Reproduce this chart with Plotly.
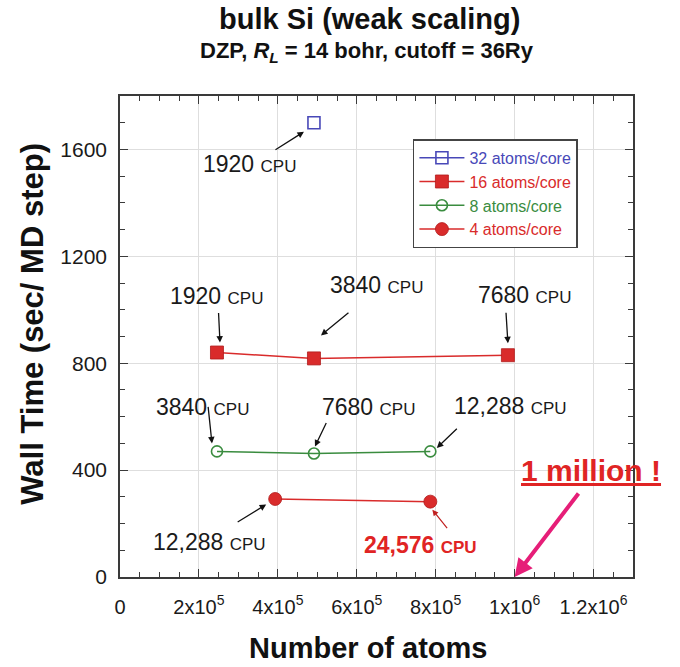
import plotly.graph_objects as go

# Weak-scaling runs of bulk Si: system size (atoms) vs wall time per MD step
atoms_32 = [491520]
time_32 = [1700]
cpu_32 = ["1920"]

atoms_16 = [245760, 491520, 983040]
time_16 = [840, 818, 830]
cpu_16 = ["1920", "3840", "7680"]

atoms_8 = [245760, 491520, 786432]
time_8 = [470, 462, 470]
cpu_8 = ["3840", "7680", "12,288"]

atoms_4 = [393216, 786432]
time_4 = [292, 282]
cpu_4 = ["12,288", "24,576"]

x_tickvals = [0, 200000, 400000, 600000, 800000, 1000000, 1200000]
x_ticktext = ["0", "2x10<sup>5</sup>", "4x10<sup>5</sup>", "6x10<sup>5</sup>",
              "8x10<sup>5</sup>", "1x10<sup>6</sup>", "1.2x10<sup>6</sup>"]
y_tickvals = [0, 400, 800, 1200, 1600]

MILLION = 1000000

FONT = "Liberation Sans, Arial, Helvetica, sans-serif"
RED = "#d92b2b"
GREEN = "#3a8c3f"
BLUE = "#4848b8"
AXIS = "#3a3a3a"

fig = go.Figure()


def legend_name(label, color):
    return f"<span style='color:{color}'>{label}</span>"


fig.add_trace(go.Scatter(
    x=atoms_32, y=time_32, mode="lines+markers",
    name=legend_name("32 atoms/core", BLUE),
    line=dict(color=BLUE, width=1.5),
    marker=dict(symbol="square-open", size=12, color=BLUE, line=dict(width=1.6)),
))
fig.add_trace(go.Scatter(
    x=atoms_16, y=time_16, mode="lines+markers",
    name=legend_name("16 atoms/core", RED),
    line=dict(color=RED, width=1.5),
    marker=dict(symbol="square", size=13, color=RED, line=dict(width=0.8, color="#b01c1c")),
))
fig.add_trace(go.Scatter(
    x=atoms_8, y=time_8, mode="lines+markers",
    name=legend_name("8 atoms/core", GREEN),
    line=dict(color=GREEN, width=1.5),
    marker=dict(symbol="circle-open", size=11, color=GREEN, line=dict(width=1.6)),
))
fig.add_trace(go.Scatter(
    x=atoms_4, y=time_4, mode="lines+markers",
    name=legend_name("4 atoms/core", RED),
    line=dict(color=RED, width=1.5),
    marker=dict(symbol="circle", size=13, color=RED, line=dict(width=0.8, color="#b01c1c")),
))


def cpu_label(x, y, cpu, dx, dy, color="#1a1a1a", bold=False):
    txt = f"{cpu} <span style='font-size:17px'>CPU</span>"
    if bold:
        txt = f"<b>{txt}</b>"
    fig.add_annotation(x=x, y=y, xref="x", yref="y", text=txt, showarrow=False,
                       xanchor="center", yanchor="middle",
                       xshift=dx, yshift=-dy,
                       font=dict(size=23, color=color, family=FONT))


def pointer(x, y, head, tail, color="#111111", width=1.3, style=2, size=1.0):
    hx, hy = head
    tx, ty = tail
    fig.add_annotation(x=x, y=y, xref="x", yref="y", text="", showarrow=True,
                       axref="pixel", ayref="pixel", ax=tx - hx, ay=ty - hy,
                       xshift=hx, yshift=-hy, standoff=0, startstandoff=0,
                       arrowhead=style, arrowsize=size, arrowwidth=width,
                       arrowcolor=color)


# 32 atoms/core
cpu_label(atoms_32[0], time_32[0], cpu_32[0], -64, 41)
pointer(atoms_32[0], time_32[0], (-10, 9), (-40, 28))

# 16 atoms/core
cpu_label(atoms_16[0], time_16[0], cpu_16[0], 0, -57)
pointer(atoms_16[0], time_16[0], (3, -10), (1.5, -41))
cpu_label(atoms_16[1], time_16[1], cpu_16[1], 63, -73)
pointer(atoms_16[1], time_16[1], (7, -23), (36, -47))
cpu_label(atoms_16[2], time_16[2], cpu_16[2], 17, -60)
pointer(atoms_16[2], time_16[2], (0, -12), (-2, -44))

# 8 atoms/core
cpu_label(atoms_8[0], time_8[0], cpu_8[0], -14, -44)
pointer(atoms_8[0], time_8[0], (-5, -8), (-9, -46))
cpu_label(atoms_8[1], time_8[1], cpu_8[1], 55, -47)
pointer(atoms_8[1], time_8[1], (1, -7), (13, -32))
cpu_label(atoms_8[2], time_8[2], cpu_8[2], 80, -45)
pointer(atoms_8[2], time_8[2], (6.5, -3.5), (28, -24))

# 4 atoms/core
cpu_label(atoms_4[0], time_4[0], cpu_4[0], -66, 43)
pointer(atoms_4[0], time_4[0], (-9, 5.5), (-39, 24))
cpu_label(atoms_4[1], time_4[1], cpu_4[1], -10, 43, color="#e02424", bold=True)
pointer(atoms_4[1], time_4[1], (2, 8), (18, 28), color="#c02020", width=1.2)

# One-million-atom target
fig.add_annotation(x=MILLION, y=0, xref="x", yref="y", text="", showarrow=True,
                   axref="pixel", ayref="pixel", ax=65, ay=-85, standoff=0,
                   arrowhead=2, arrowsize=0.9, arrowwidth=4, arrowcolor="#e61e78")
fig.add_annotation(x=MILLION, y=0, xref="x", yref="y",
                   text="<b><u>1 million !</u></b>", showarrow=False,
                   xanchor="center", yanchor="middle",
                   xshift=76, yshift=107,
                   font=dict(size=30, color="#e02424", family=FONT))

# Titles
fig.add_annotation(x=0.487, y=1.161, xref="paper", yref="paper",
                   xanchor="center", yanchor="middle",
                   text="<b>bulk Si (weak scaling)</b>", showarrow=False,
                   font=dict(size=29, color="#111111", family=FONT))
fig.add_annotation(x=0.482, y=1.092, xref="paper", yref="paper",
                   xanchor="center", yanchor="middle",
                   text="<b>DZP, <i>R</i><sub><i>L</i></sub> = 14 bohr, cutoff = 36Ry</b>",
                   showarrow=False,
                   font=dict(size=22, color="#111111", family=FONT))
fig.add_annotation(x=-0.17, y=0.526, xref="paper", yref="paper",
                   xanchor="center", yanchor="middle",
                   text="<b>Wall Time (sec/ MD step)</b>", textangle=-90,
                   showarrow=False,
                   font=dict(size=31, color="#111111", family=FONT))
fig.add_annotation(x=0.483, y=-0.148, xref="paper", yref="paper",
                   xanchor="center", yanchor="middle",
                   text="<b>Number of atoms</b>", showarrow=False,
                   font=dict(size=29, color="#111111", family=FONT))

axis_common = dict(
    showline=True, linecolor=AXIS, linewidth=1.5, mirror="allticks",
    ticks="inside", ticklen=8, tickwidth=1.3, tickcolor=AXIS,
    showgrid=True, gridcolor="#dedede", gridwidth=1, zeroline=False,
)

fig.update_xaxes(
    range=[0, 1300000], tickmode="array", tickvals=x_tickvals, ticktext=x_ticktext,
    tickfont=dict(size=20, color="#1a1a1a", family=FONT), ticklabelstandoff=11,
    minor=dict(dtick=50000, tick0=0, ticks="inside", ticklen=5, tickwidth=1.2,
               tickcolor=AXIS, showgrid=False),
    **axis_common,
)
fig.update_yaxes(
    range=[0, 1800], tickmode="array", tickvals=y_tickvals,
    tickfont=dict(size=21, color="#1a1a1a", family=FONT), ticklabelstandoff=7,
    minor=dict(dtick=100, tick0=0, ticks="inside", ticklen=5, tickwidth=1.2,
               tickcolor=AXIS, showgrid=False),
    **axis_common,
)

fig.update_layout(
    width=680, height=667,
    margin=dict(l=120, r=47, t=96, b=90),
    paper_bgcolor="white", plot_bgcolor="white",
    font=dict(family=FONT, color="#1a1a1a"),
    showlegend=True,
    legend=dict(x=0.571, y=0.91, xanchor="left", yanchor="top",
                bgcolor="white", bordercolor="#444444", borderwidth=1.5,
                font=dict(size=16, family=FONT), itemwidth=45,
                tracegroupgap=0),
)

fig.write_html("out.html")
